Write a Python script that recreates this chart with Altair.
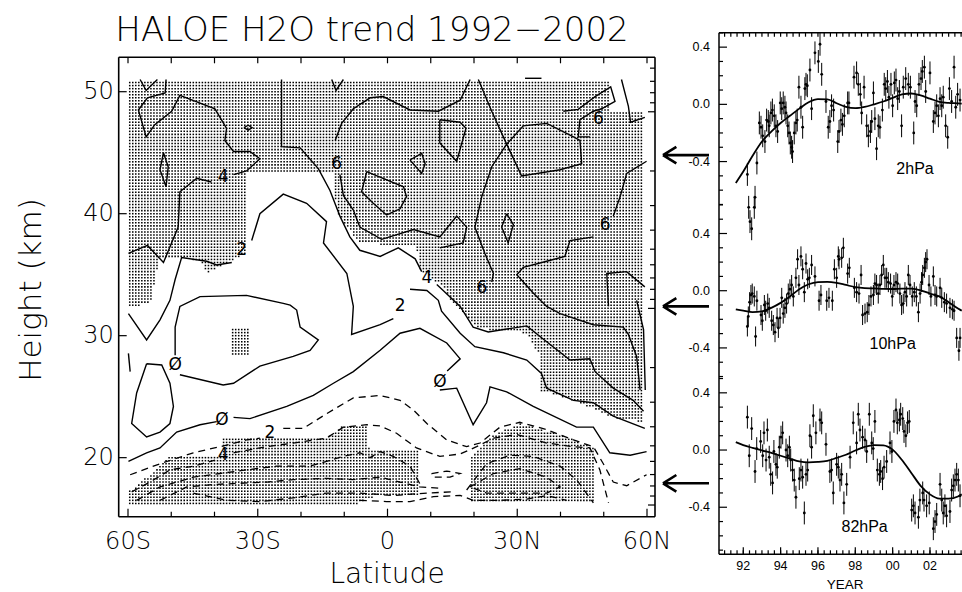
import numpy as np
import pandas as pd
import altair as alt

TITLE = "HALOE H2O trend  1992\u22122002"
MAP_FONT = "DejaVu Sans"
MAP_WEIGHT = 200
SERIES_FONT = "Liberation Sans"

# ------------------------------------------------------------------ layout
CANVAS_W, CANVAS_H = 962, 592
LAT_DOMAIN = [-62.15, 61.85]          # latitude at the map frame edges
Z_DOMAIN = [15.16, 52.82]             # height (km) at the map frame edges
MAP_X_RANGE = [118.7, 655.0]
MAP_Y_RANGE = [516.7, 57.3]

YEAR_DOMAIN = [1990.70, 2003.715]
STACK_DOMAIN = [-0.729, 2.918]        # three anomaly panels stacked in one frame
SERIES_X_RANGE = [719.0, 962.0]
SERIES_Y_RANGE = [554.3, 32.7]
PANEL_SHIFT = {"2hPa": 2.417, "10hPa": 1.114, "82hPa": 0.0}

# ------------------------------------------------ contour lines (lat, km)
SOLID_LINES = [
    [(-57.2, 51.0), (-55.8, 50.1), (-53.2, 51.0)],
    [(-51.2, 51.0), (-51.4, 49.9), (-55.5, 49.5), (-57.6, 48.5), (-55.8, 46.3), (-53.8, 47.3),
     (-49.9, 48.4), (-48.0, 49.7), (-39.9, 48.6), (-37.2, 47.0), (-37.6, 46.0), (-35.6, 45.1),
     (-31.8, 45.1), (-29.5, 44.5), (-32.6, 43.5), (-35.6, 43.2)],
    [(-40.7, 42.6), (-44.1, 42.9), (-48.0, 41.8), (-48.4, 38.9), (-51.8, 36.0), (-55.5, 37.4),
     (-59.9, 36.75)],
    [(-51.8, 45.0), (-50.7, 43.85), (-51.2, 42.2), (-52.6, 43.6), (-51.8, 45.0)],
    [(-33.2, 47.05), (-32.2, 47.25), (-31.3, 47.05), (-32.2, 46.85), (-33.2, 47.05)],
    [(-12.9, 51.0), (-11.9, 50.1), (-10.2, 51.0)],
    [(-24.5, 51.0), (-24.5, 45.5), (-20.2, 45.4), (-16.0, 43.7), (-13.3, 41.9), (-11.0, 39.8),
     (-8.7, 38.1), (-6.4, 37.0), (-1.7, 36.5), (2.5, 37.2), (6.4, 36.3), (7.9, 35.25)],
    [(11.4, 34.2), (14.1, 33.3), (16.8, 32.4), (19.8, 30.7), (23.3, 30.3), (32.2, 30.8),
     (36.8, 29.5), (42.2, 28.0), (46.8, 28.1), (48.0, 27.05), (52.2, 25.7), (56.8, 24.7),
     (59.2, 23.8)],
    [(21.0, 51.0), (24.1, 48.4), (27.55, 45.7), (31.0, 43.1), (39.9, 43.6), (44.9, 44.1),
     (44.5, 46.0), (43.0, 46.3), (36.8, 47.4), (31.4, 47.2), (27.55, 45.7), (24.1, 43.85),
     (21.8, 41.4), (20.2, 38.9), (22.5, 36.75), (24.5, 35.1), (24.1, 34.4)],
    [(19.1, 51.0), (16.8, 49.3), (11.75, 48.4), (5.2, 48.5), (-1.0, 49.6), (-4.0, 49.5),
     (-7.9, 48.6), (-10.6, 47.4), (-12.1, 46.0)],
    [(-11.0, 43.2), (-10.2, 41.5), (-7.9, 40.3), (-6.4, 38.9), (-1.35, 37.9), (6.0, 38.7),
     (12.1, 38.1), (16.0, 39.8), (18.3, 38.9), (17.5, 37.6), (12.1, 37.2)],
    [(12.1, 47.7), (16.8, 47.5), (18.15, 47.0), (16.0, 44.3), (12.1, 45.8), (12.1, 47.7)],
    [(5.2, 44.4), (7.9, 44.95), (8.7, 44.1), (7.9, 43.3), (5.2, 44.4)],
    [(-4.8, 43.45), (3.7, 42.2), (4.4, 41.4), (2.9, 40.4), (-0.2, 39.9), (-3.3, 40.85),
     (-6.0, 41.8), (-4.8, 43.45)],
    [(27.55, 40.0), (29.1, 39.1), (27.9, 37.6), (26.4, 38.9), (27.55, 40.0)],
    [(31.8, 51.1), (35.6, 51.1)],
    [(40.65, 48.4), (44.1, 48.55), (48.0, 49.6), (51.6, 50.4), (52.6, 49.2), (49.5, 48.6),
     (47.6, 48.4), (44.5, 47.7), (44.1, 46.3), (46.8, 46.3)],
    [(54.1, 51.0), (55.7, 48.8), (56.2, 47.5), (59.5, 47.9)],
    [(59.9, 44.3), (55.3, 43.3), (53.8, 41.4), (52.2, 39.8)],
    [(47.6, 38.1), (42.2, 37.8), (41.0, 36.5), (36.8, 36.1), (31.4, 35.6), (29.9, 35.0),
     (33.7, 33.5), (36.8, 32.4), (39.9, 31.8), (47.6, 30.9), (54.5, 30.7), (55.7, 30.1),
     (57.6, 28.3), (58.4, 25.55)],
    [(51.1, 32.4), (50.7, 35.1), (55.3, 35.25), (59.5, 34.0)],
    [(57.6, 32.9), (59.2, 30.5), (59.6, 25.55)],
    [(-59.9, 31.8), (-55.7, 29.65), (-52.6, 31.3), (-50.3, 32.9), (-49.1, 34.6), (-47.6, 36.4),
     (-41.8, 36.1), (-39.5, 35.8), (-36.0, 36.0)],
    [(-31.4, 37.8), (-29.5, 40.0), (-24.1, 41.6), (-18.7, 40.85), (-14.1, 39.35), (-14.8, 37.6),
     (-9.4, 35.1), (-7.9, 32.4), (-8.3, 30.1), (-1.7, 30.9), (1.35, 31.4)],
    [(5.2, 33.8), (9.1, 33.7), (11.75, 32.9), (12.5, 32.0), (16.8, 30.2), (20.2, 29.1),
     (26.8, 28.6), (32.2, 28.0), (35.6, 26.9), (36.8, 25.7), (43.0, 24.7), (47.6, 24.5),
     (52.2, 23.4), (59.5, 22.4)],
    [(-49.1, 28.4), (-49.1, 30.7), (-48.0, 32.4), (-43.35, 33.2), (-32.6, 33.3), (-24.1, 32.65),
     (-22.5, 32.5), (-21.0, 32.1), (-20.2, 30.7), (-16.0, 29.65), (-17.9, 28.8), (-21.8, 28.3),
     (-29.5, 27.5), (-35.6, 26.1), (-38.0, 25.96), (-48.0, 26.8)],
    [(-55.7, 27.7), (-52.2, 27.6), (-50.3, 26.1), (-49.5, 24.2), (-50.3, 22.8), (-52.6, 22.1),
     (-55.7, 21.7), (-59.15, 22.8), (-58.0, 25.3), (-55.7, 27.7)],
    [(-59.9, 28.55), (-59.5, 27.05)],
    [(-59.9, 19.7), (-55.7, 20.4), (-52.6, 20.8), (-48.75, 22.1), (-43.35, 22.7), (-39.5, 22.95)],
    [(-35.6, 23.3), (-31.8, 23.2), (-23.3, 24.2), (-17.15, 25.1), (-12.5, 26.1), (-7.9, 27.05),
     (-1.7, 28.8), (2.9, 30.2), (7.5, 30.6), (13.7, 29.4), (16.8, 28.1), (13.8, 27.1)],
    [(12.1, 25.55), (16.0, 25.7), (19.8, 22.7), (22.9, 24.5), (23.7, 25.8), (27.55, 25.4),
     (33.7, 24.2), (43.7, 22.5), (47.6, 22.5), (51.4, 20.4), (56.1, 20.2), (59.9, 20.5)],
]

DASHED_LINES = [
    [(-59.5, 18.6), (-52.6, 19.5), (-44.9, 20.4), (-38.7, 20.9), (-32.6, 21.45), (-29.5, 21.6)],
    [(-24.1, 22.4), (-19.5, 22.4), (-14.1, 23.6), (-7.9, 24.9), (-1.7, 25.1), (2.9, 24.7),
     (6.0, 23.9), (9.1, 22.8), (13.7, 21.45), (18.3, 20.9), (21.4, 21.2), (26.0, 22.5),
     (30.6, 22.9), (36.8, 22.3), (43.0, 21.45), (47.6, 20.9), (49.9, 19.5), (52.2, 18.0),
     (55.3, 17.7), (59.9, 18.6)],
    [(-59.15, 17.2), (-54.9, 18.0), (-50.3, 19.0), (-44.9, 19.3), (-39.9, 19.8)],
    [(-35.6, 20.4), (-32.6, 20.6), (-27.9, 20.9), (-21.8, 21.2), (-14.1, 21.6), (-10.2, 22.5),
     (-4.8, 22.7), (-1.7, 22.6), (2.1, 22.0), (6.7, 20.8), (12.1, 20.1), (16.8, 20.3),
     (20.6, 20.9), (24.5, 21.6), (29.9, 21.9), (36.8, 21.2), (43.0, 20.9), (46.8, 20.8),
     (49.1, 19.0), (51.1, 16.3)],
    [(-58.0, 16.5), (-52.6, 17.6), (-44.9, 18.4), (-38.7, 18.7), (-32.6, 19.0), (-25.6, 19.3),
     (-17.9, 19.3), (-10.2, 20.1), (-6.4, 20.4), (-4.0, 20.0), (-1.7, 20.5), (1.35, 20.1),
     (5.2, 19.3), (7.9, 17.6)],
    [(-52.6, 16.5), (-46.4, 17.6), (-40.3, 17.8), (-34.1, 17.9), (-27.9, 18.0), (-21.8, 18.2),
     (-14.1, 18.3), (-7.9, 18.2), (-1.7, 18.4), (2.9, 18.0), (7.5, 17.6), (12.1, 17.5)],
    [(-44.9, 17.1), (-37.2, 16.5), (-29.5, 16.4), (-21.8, 16.7), (-14.1, 17.1), (-6.4, 17.1),
     (1.35, 16.9), (9.1, 17.1), (15.2, 17.2)],
    [(-6.4, 16.5), (-0.2, 16.4), (5.2, 16.4), (10.6, 16.8), (16.8, 16.9), (19.8, 16.5),
     (26.0, 16.5), (32.2, 16.6), (36.8, 16.9), (41.4, 16.5)],
    [(19.1, 17.6), (24.5, 18.7), (30.6, 19.1), (36.8, 18.4), (39.9, 17.6), (36.8, 17.1),
     (29.9, 17.1), (22.9, 17.1), (19.1, 17.6)],
    [(18.3, 17.35), (22.9, 19.5), (28.3, 20.2), (33.7, 20.1), (39.9, 19.3), (43.7, 18.2),
     (47.6, 16.3)],
    [(10.2, 18.7), (13.7, 18.9), (16.8, 18.7), (14.45, 18.4), (10.6, 18.4), (10.2, 18.7)],
]

CONTOUR_LABELS = ["4", "2", "6", "4", "2", "6", "6", "6", "\u00d8", "\u00d8", "\u00d8", "2", "4"]
LABEL_LAT = [-38.0, -33.7, -11.75, 9.1, 2.9, 21.8, 48.75, 50.3, -49.1, -38.3, 12.1, -27.2, -38.0]
LABEL_Z = [43.0, 37.0, 44.1, 34.7, 32.4, 33.9, 47.8, 39.1, 27.6, 23.1, 26.2, 22.0, 20.2]

# significance (stippled) regions, as polygons in (lat, km)
STIPPLE_REGIONS = [
    [(-59.6, 51.0), (51.4, 51.0), (51.4, 48.4), (59.2, 48.4), (59.2, 22.9), (52.2, 23.3),
     (43.0, 24.7), (35.3, 25.5), (35.3, 28.3), (32.2, 30.2), (20.6, 30.6), (14.5, 32.9),
     (12.9, 34.0), (7.5, 35.4), (6.7, 37.3), (-6.4, 37.6), (-11.7, 40.0), (-12.5, 43.3),
     (-32.6, 43.3), (-32.6, 36.75), (-35.7, 36.2), (-41.8, 35.1), (-43.4, 36.2),
     (-52.6, 36.5), (-54.9, 32.6), (-59.6, 32.4)],
    [(-36.0, 30.6), (-32.2, 30.6), (-32.2, 28.5), (-36.0, 28.5)],
    [(-59.9, 16.1), (-59.9, 17.2), (-52.6, 19.25), (-50.3, 20.1), (-38.7, 20.1), (-38.0, 21.6),
     (-14.1, 21.6), (-10.2, 22.7), (-4.8, 22.7), (-4.8, 21.2), (-3.3, 20.6), (7.5, 20.6),
     (7.5, 16.9), (-2.0, 16.9), (-8.0, 16.1)],
    [(19.1, 20.1), (23.7, 21.7), (30.6, 22.8), (36.8, 22.2), (47.6, 20.9), (47.6, 16.3),
     (19.1, 16.3)],
]

# tick marks of the map
LAT_TICKS = [-60, -50, -40, -30, -20, -10, 0, 10, 20, 30, 40, 50, 60]
LAT_LABELED = [-60, -30, 0, 30, 60]
LAT_TEXT = ["60S", "30S", "0", "30N", "60N"]
HEIGHT_LABELED = [20, 30, 40, 50]
# pressure levels marked on the right-hand height axis (hPa)
PRESSURE_TICKS = [0.6, 0.7, 0.8, 0.9, 1, 2, 3, 4, 5, 6, 7, 8, 9, 10,
                  20, 30, 40, 50, 60, 70, 80, 90, 100]
SCALE_HEIGHT_KM = 7.0

# heights of the three levels shown on the right
ARROW_Z = [44.8, 32.4, 17.9]

# --------------------------------------------- H2O anomaly series (ppmv)
YEARS_2HPA = [1992.22, 1992.29, 1992.36, 1992.45, 1992.59, 1992.63, 1992.73, 1992.86, 1992.95,
              1993.04, 1993.16, 1993.25, 1993.34, 1993.39, 1993.48, 1993.56, 1993.66, 1993.75,
              1993.84, 1993.98, 1994.06, 1994.14, 1994.23, 1994.29, 1994.38, 1994.45, 1994.52,
              1994.59, 1994.64, 1994.73, 1994.82, 1994.89, 1994.98, 1995.09, 1995.18, 1995.30,
              1995.36, 1995.43, 1995.57, 1995.66, 1995.84, 1996.02, 1996.11, 1996.20, 1996.43,
              1996.55, 1996.64, 1996.73, 1996.84, 1997.06, 1997.13, 1997.23, 1997.31, 1997.41,
              1997.59, 1997.66, 1997.93, 1998.07, 1998.16, 1998.27, 1998.34, 1998.47, 1998.61,
              1998.70, 1998.81, 1998.88, 1998.97, 1999.05, 1999.14, 1999.23, 1999.32, 1999.45,
              1999.55, 1999.63, 1999.72, 1999.80, 1999.91, 2000.00, 2000.09, 2000.18, 2000.27,
              2000.36, 2000.48, 2000.57, 2000.70, 2000.84, 2000.95, 2001.13, 2001.20, 2001.29,
              2001.41, 2001.52, 2001.59, 2001.70, 2001.77, 2002.00, 2002.18, 2002.27, 2002.36,
              2002.45, 2002.54, 2002.63, 2002.71, 2002.84, 2002.95, 2003.04, 2003.16, 2003.29,
              2003.38, 2003.48, 2003.61]
VALUES_2HPA = [-0.49, -0.72, -0.82, -0.87, -0.72, -0.65, -0.41, -0.13, -0.16,
               -0.22, -0.26, -0.11, -0.12, -0.15, -0.06, -0.04, -0.08, -0.15,
               -0.19, 0.01, -0.03, 0.01, -0.02, -0.06, -0.15, -0.20, -0.27,
               -0.30, -0.33, -0.20, -0.13, -0.11, 0.12, -0.02, -0.16, 0.11,
               0.14, 0.13, 0.24, -0.03, 0.36, 0.30, 0.42, 0.21, 0.02,
               -0.16, -0.12, -0.01, -0.04, -0.26, -0.19, -0.11, -0.14, -0.08,
               0.01, 0.01, 0.19, 0.22, 0.14, 0.07, -0.06, 0.12, -0.15,
               -0.22, -0.19, -0.12, 0.08, -0.10, -0.31, -0.15, -0.16, -0.04,
               0.14, 0.11, 0.16, 0.05, 0.14, -0.01, 0.15, 0.17, 0.04,
               0.09, -0.15, 0.12, 0.18, 0.14, 0.12, -0.20, 0.02, -0.01,
               0.14, 0.18, 0.23, 0.26, 0.09, 0.22, -0.12, -0.06, -0.01,
               -0.08, 0.04, -0.01, 0.05, -0.15, -0.23, 0.11, 0.02, 0.26,
               -0.02, 0.07, 0.03]

YEARS_10HPA = [1992.22, 1992.27, 1992.34, 1992.41, 1992.48, 1992.59, 1992.66, 1992.73, 1992.95,
               1993.02, 1993.13, 1993.20, 1993.31, 1993.39, 1993.52, 1993.61, 1993.70, 1993.81,
               1993.88, 1993.97, 1994.06, 1994.14, 1994.23, 1994.32, 1994.41, 1994.50, 1994.59,
               1994.68, 1994.82, 1994.91, 1994.98, 1995.09, 1995.18, 1995.27, 1995.36, 1995.45,
               1995.54, 1995.66, 1995.84, 1996.06, 1996.16, 1996.47, 1996.59, 1996.77, 1996.88,
               1997.00, 1997.09, 1997.13, 1997.27, 1997.36, 1997.59, 1997.68, 1997.95, 1998.07,
               1998.20, 1998.31, 1998.39, 1998.52, 1998.64, 1998.73, 1998.84, 1998.97, 1999.05,
               1999.14, 1999.23, 1999.32, 1999.41, 1999.50, 1999.59, 1999.68, 1999.77, 1999.89,
               1999.98, 2000.07, 2000.18, 2000.27, 2000.39, 2000.48, 2000.57, 2000.66, 2000.75,
               2000.84, 2000.93, 2001.05, 2001.16, 2001.27, 2001.38, 2001.47, 2001.55, 2001.61,
               2001.70, 2001.77, 2001.84, 2001.95, 2002.05, 2002.18, 2002.27, 2002.36, 2002.54,
               2002.63, 2002.77, 2002.89, 2003.07, 2003.20, 2003.29, 2003.43, 2003.55, 2003.61]
VALUES_10HPA = [-0.25, -0.18, -0.08, -0.03, -0.02, -0.04, -0.32, -0.07, -0.17,
                -0.21, -0.10, -0.14, -0.09, -0.12, -0.21, -0.24, -0.29, -0.19,
                -0.26, -0.19, -0.05, -0.16, -0.12, -0.09, -0.02, 0.01, 0.04,
                -0.04, 0.09, 0.22, 0.04, 0.24, 0.15, -0.01, 0.19, 0.08,
                0.09, 0.18, 0.10, -0.07, -0.03, -0.07, -0.05, -0.07, 0.15,
                0.09, 0.24, 0.22, 0.23, 0.30, 0.12, 0.16, 0.02, -0.01,
                -0.02, 0.11, -0.17, -0.16, -0.15, -0.10, -0.04, -0.03, 0.05,
                0.04, -0.02, 0.04, 0.11, 0.18, 0.09, 0.09, 0.06, 0.05,
                -0.04, 0.04, 0.06, 0.05, -0.02, -0.10, -0.09, -0.01, -0.04,
                0.11, 0.04, -0.04, -0.01, -0.04, -0.15, -0.02, 0.06, 0.11,
                0.16, 0.20, 0.22, 0.04, -0.04, 0.10, -0.03, -0.04, 0.02,
                -0.05, -0.08, -0.09, -0.12, -0.13, -0.14, -0.33, -0.42, -0.33]

YEARS_82HPA = [1992.22, 1992.32, 1992.45, 1992.63, 1992.72, 1992.93, 1993.04, 1993.11, 1993.22,
               1993.29, 1993.39, 1993.47, 1993.57, 1993.64, 1993.75, 1993.82, 1993.93, 1994.02,
               1994.11, 1994.29, 1994.38, 1994.47, 1994.54, 1994.64, 1994.73, 1994.82, 1995.00,
               1995.09, 1995.18, 1995.27, 1995.36, 1995.45, 1995.57, 1995.66, 1995.75, 1995.89,
               1996.11, 1996.20, 1996.43, 1996.64, 1996.73, 1996.82, 1997.00, 1997.09, 1997.18,
               1997.27, 1997.39, 1997.54, 1997.72, 1997.89, 1998.07, 1998.16, 1998.25, 1998.39,
               1998.52, 1998.61, 1998.75, 1998.88, 1998.96, 1999.05, 1999.18, 1999.29, 1999.36,
               1999.46, 1999.54, 1999.68, 1999.86, 1999.96, 2000.07, 2000.18, 2000.25, 2000.36,
               2000.43, 2000.54, 2000.61, 2000.71, 2000.80, 2000.89, 2001.02, 2001.11, 2001.20,
               2001.38, 2001.46, 2001.61, 2001.68, 2001.82, 2001.96, 2002.18, 2002.27, 2002.36,
               2002.54, 2002.63, 2002.71, 2002.80, 2002.89, 2003.07, 2003.16, 2003.25, 2003.34,
               2003.43, 2003.52, 2003.61]
VALUES_82HPA = [0.23, -0.04, 0.15, -0.15, 0.01, 0.06, -0.04, 0.12, -0.07,
                0.14, -0.05, -0.17, -0.23, -0.01, -0.10, -0.12, 0.02, 0.09,
                0.12, 0.00, -0.04, 0.02, -0.07, -0.14, -0.21, -0.33, -0.20,
                -0.14, -0.19, -0.44, -0.17, -0.14, 0.10, 0.02, 0.24, 0.12,
                0.21, 0.19, 0.04, -0.15, -0.14, -0.30, -0.10, -0.12, -0.21,
                -0.17, -0.37, -0.24, -0.05, 0.19, 0.05, 0.25, 0.14, 0.09,
                0.07, -0.01, 0.25, 0.05, 0.01, 0.20, -0.14, -0.17, -0.15,
                -0.20, -0.12, -0.08, 0.05, -0.01, 0.20, 0.28, 0.19, 0.21,
                0.25, 0.22, 0.13, 0.10, 0.19, 0.20, -0.42, -0.39, -0.44,
                -0.47, -0.35, -0.30, -0.35, -0.39, -0.37, -0.55, -0.50, -0.45,
                -0.24, -0.35, -0.44, -0.39, -0.46, -0.43, -0.28, -0.25, -0.21,
                -0.17, -0.21, -0.32]

ERROR_HALF_WIDTH = {"2hPa": 0.08, "10hPa": 0.07, "82hPa": 0.08}

# smooth fitted curves
FIT_YEARS = [1991.6, 1992.0, 1992.5, 1993.0, 1993.5, 1994.0, 1994.5, 1995.0, 1995.5, 1996.0,
             1996.5, 1997.0, 1997.5, 1998.0, 1998.5, 1999.0, 1999.5, 2000.0, 2000.5, 2001.0,
             2001.5, 2002.0, 2002.5, 2003.0, 2003.5, 2003.7]
FIT_2HPA = [-0.55, -0.47, -0.36, -0.26, -0.19, -0.13, -0.08, -0.03, 0.015, 0.037,
            0.035, 0.008, -0.018, -0.027, -0.018, 0.0, 0.02, 0.045, 0.07, 0.076,
            0.062, 0.04, 0.018, 0.01, 0.007, 0.005]
FIT_10HPA = [-0.13, -0.14, -0.15, -0.145, -0.12, -0.085, -0.04, 0.01, 0.045, 0.06,
             0.062, 0.055, 0.04, 0.025, 0.018, 0.016, 0.013, 0.012, 0.015, 0.014,
             0.003, -0.02, -0.04, -0.08, -0.125, -0.14]
FIT_82HPA = [0.055, 0.035, 0.015, -0.003, -0.02, -0.04, -0.06, -0.08, -0.086, -0.083,
             -0.075, -0.055, -0.033, -0.003, 0.022, 0.035, 0.033, 0.003, -0.07, -0.16,
             -0.25, -0.31, -0.34, -0.34, -0.325, -0.31]

PANEL_NAMES = ["2hPa", "10hPa", "82hPa"]
PANEL_LABEL_YEAR = [2001.2, 2000.0, 1998.5]
PANEL_LABEL_VALUE = [-0.45, -0.37, -0.54]
YEAR_LABELED = [1992, 1994, 1996, 1998, 2000, 2002]


# ------------------------------------------------------------ data frames
def lines_frame(lines):
    rows = []
    for k, pts in enumerate(lines):
        for i, (la, zz) in enumerate(pts):
            rows.append({"line": k, "i": i, "lat": la, "z": zz})
    return pd.DataFrame(rows)


def inside(poly, px, py):
    poly = np.asarray(poly, dtype=float)
    xs, ys = poly[:, 0], poly[:, 1]
    hit = np.zeros(px.shape, dtype=bool)
    j = len(poly) - 1
    for i in range(len(poly)):
        xi, yi, xj, yj = xs[i], ys[i], xs[j], ys[j]
        crosses = (yi > py) != (yj > py)
        xcross = (xj - xi) * (py - yi) / np.where(yj == yi, 1e-9, yj - yi) + xi
        hit ^= crosses & (px < xcross)
        j = i
    return hit


# stipple texture: a regular dot lattice kept inside the shaded regions
glat, gz = np.meshgrid(np.arange(-59.6, 59.7, 0.7), np.arange(16.0, 51.05, 0.25))
glat, gz = glat.ravel(), gz.ravel()
mask = np.zeros(glat.shape, dtype=bool)
for region in STIPPLE_REGIONS:
    mask |= inside(region, glat, gz)
stipple_df = pd.DataFrame({"lat": np.round(glat[mask], 3), "z": np.round(gz[mask], 3)})

solid_df = lines_frame(SOLID_LINES)
dashed_df = lines_frame(DASHED_LINES)
label_df = pd.DataFrame({"label": CONTOUR_LABELS, "lat": LABEL_LAT, "z": LABEL_Z})

map_frame_df = pd.DataFrame({
    "lat": [LAT_DOMAIN[0], LAT_DOMAIN[0], LAT_DOMAIN[0], LAT_DOMAIN[1]],
    "lat2": [LAT_DOMAIN[1], LAT_DOMAIN[1], LAT_DOMAIN[0], LAT_DOMAIN[1]],
    "z": [Z_DOMAIN[0], Z_DOMAIN[1], Z_DOMAIN[0], Z_DOMAIN[0]],
    "z2": [Z_DOMAIN[0], Z_DOMAIN[1], Z_DOMAIN[1], Z_DOMAIN[1]],
})
lat_minor = [v for v in LAT_TICKS if v not in LAT_LABELED]
p_heights = [SCALE_HEIGHT_KM * np.log(1000.0 / p) for p in PRESSURE_TICKS]
p_major = [h for p, h in zip(PRESSURE_TICKS, p_heights) if p in (1, 10, 100)]
p_minor = [h for p, h in zip(PRESSURE_TICKS, p_heights) if p not in (1, 10, 100)]

lat_text_df = pd.DataFrame({"lat": LAT_LABELED, "z": Z_DOMAIN[0], "t": LAT_TEXT})
z_text_df = pd.DataFrame({"lat": LAT_DOMAIN[0], "z": HEIGHT_LABELED,
                          "t": [str(v) for v in HEIGHT_LABELED]})
arrow_df = pd.DataFrame({"z": ARROW_Z})


def series_frame(name, years, values):
    shift = PANEL_SHIFT[name]
    v = np.asarray(values, dtype=float) + shift
    e = ERROR_HALF_WIDTH[name]
    return pd.DataFrame({"level": name, "year": years, "v": v, "lo": v - e, "hi": v + e})


obs_df = pd.concat([
    series_frame("2hPa", YEARS_2HPA, VALUES_2HPA),
    series_frame("10hPa", YEARS_10HPA, VALUES_10HPA),
    series_frame("82hPa", YEARS_82HPA, VALUES_82HPA),
], ignore_index=True)
fit_df = pd.concat([
    pd.DataFrame({"level": n, "year": FIT_YEARS, "v": np.asarray(f) + PANEL_SHIFT[n]})
    for n, f in zip(PANEL_NAMES, [FIT_2HPA, FIT_10HPA, FIT_82HPA])
], ignore_index=True)
panel_label_df = pd.DataFrame({
    "label": PANEL_NAMES,
    "year": PANEL_LABEL_YEAR,
    "v": [v + PANEL_SHIFT[n] for n, v in zip(PANEL_NAMES, PANEL_LABEL_VALUE)],
})

series_frame_df = pd.DataFrame({
    "year": [YEAR_DOMAIN[0], YEAR_DOMAIN[0], YEAR_DOMAIN[0]],
    "year2": [YEAR_DOMAIN[0], YEAR_DOMAIN[1], YEAR_DOMAIN[1]],
    "v": [STACK_DOMAIN[0], STACK_DOMAIN[1], STACK_DOMAIN[0]],
    "v2": [STACK_DOMAIN[1], STACK_DOMAIN[1], STACK_DOMAIN[0]],
})
label_ticks, label_text, minor_ticks = [], [], []
panel_span = {"2hPa": (-0.7, 0.5), "10hPa": (-0.6, 0.6), "82hPa": (-0.7, 0.5)}
for n in PANEL_NAMES:
    s = PANEL_SHIFT[n]
    for local in (-0.4, 0.0, 0.4):
        label_ticks.append(round(s + local, 3))
        label_text.append(f"{local:.1f}")
    lo, hi = panel_span[n]
    for k in range(int(round(lo * 10)), int(round(hi * 10)) + 1):
        if k % 4 != 0:
            minor_ticks.append(round(s + k / 10.0, 3))
year_ticks = [1991 + k / 3.0 for k in range(0, 39)]
stack_text_df = pd.DataFrame({"year": YEAR_DOMAIN[0], "v": label_ticks, "t": label_text})
year_text_df = pd.DataFrame({"year": YEAR_LABELED, "v": STACK_DOMAIN[0],
                             "t": [str(y)[2:] for y in YEAR_LABELED]})

# ------------------------------------------------------------ encodings
MAP_X_SCALE = alt.Scale(domain=LAT_DOMAIN, range=MAP_X_RANGE, nice=False, zero=False)
MAP_Y_SCALE = alt.Scale(domain=Z_DOMAIN, range=MAP_Y_RANGE, nice=False, zero=False)
TS_X_SCALE = alt.Scale(domain=YEAR_DOMAIN, range=SERIES_X_RANGE, nice=False, zero=False)
TS_Y_SCALE = alt.Scale(domain=STACK_DOMAIN, range=SERIES_Y_RANGE, nice=False, zero=False)


def mx(field="lat"):
    return alt.X(f"{field}:Q", scale=MAP_X_SCALE, axis=None)


def my(field="z"):
    return alt.Y(f"{field}:Q", scale=MAP_Y_SCALE, axis=None)


def sx(field="year"):
    return alt.X(f"{field}:Q", scale=TS_X_SCALE, axis=None)


def sy(field="v"):
    return alt.Y(f"{field}:Q", scale=TS_Y_SCALE, axis=None)


def tick_layer(df, xf, yf, x2=None, y2=None, **offs):
    enc = {"x": xf, "y": yf}
    if x2 is not None:
        enc["x2"] = x2
    if y2 is not None:
        enc["y2"] = y2
    return alt.Chart(df).mark_rule(color="black", strokeWidth=1.2, **offs).encode(**enc)


def caption(text, x, y, size, font, angle=0, weight="normal"):
    return alt.Chart(pd.DataFrame({"t": [text]})).mark_text(
        font=font, fontSize=size, fontWeight=weight, color="black", align="center",
        baseline="alphabetic", angle=angle).encode(
        x=alt.value(x), y=alt.value(y), text="t:N")


# ------------------------------------------------------------ map layers
stipple = alt.Chart(stipple_df).mark_square(size=2.4, color="black", opacity=1).encode(
    x=mx(), y=my())
solid = alt.Chart(solid_df).mark_line(color="black", strokeWidth=1.4).encode(
    x=mx(), y=my(), detail="line:N", order="i:Q")
dashed = alt.Chart(dashed_df).mark_line(color="black", strokeWidth=1.3,
                                        strokeDash=[7, 5]).encode(
    x=mx(), y=my(), detail="line:N", order="i:Q")
labels = alt.Chart(label_df).mark_text(font=MAP_FONT, fontSize=17, color="black").encode(
    x=mx(), y=my(), text="label:N")
map_frame = alt.Chart(map_frame_df).mark_rule(color="black", strokeWidth=1.6).encode(
    x=mx(), x2="lat2:Q", y=my(), y2="z2:Q")
map_ticks = [
    tick_layer(pd.DataFrame({"lat": LAT_LABELED, "z": Z_DOMAIN[0]}), mx(), my(), y2="z:Q", y2Offset=-8),
    tick_layer(pd.DataFrame({"lat": lat_minor, "z": Z_DOMAIN[0]}), mx(), my(), y2="z:Q", y2Offset=-5),
    tick_layer(pd.DataFrame({"lat": LAT_TICKS, "z": Z_DOMAIN[1]}), mx(), my(), y2="z:Q", y2Offset=6),
    tick_layer(pd.DataFrame({"lat": LAT_DOMAIN[0], "z": HEIGHT_LABELED}), mx(), my(), x2="lat:Q", x2Offset=8),
    tick_layer(pd.DataFrame({"lat": LAT_DOMAIN[1], "z": p_major}), mx(), my(), x2="lat:Q", x2Offset=-7),
    tick_layer(pd.DataFrame({"lat": LAT_DOMAIN[1], "z": p_minor}), mx(), my(), x2="lat:Q", x2Offset=-5),
]
lat_text = alt.Chart(lat_text_df).mark_text(font=MAP_FONT, fontSize=24, fontWeight=MAP_WEIGHT,
                                            color="black", align="center",
                                            baseline="alphabetic", dy=32).encode(
    x=mx(), y=my(), text="t:N")
z_text = alt.Chart(z_text_df).mark_text(font=MAP_FONT, fontSize=24, fontWeight=MAP_WEIGHT,
                                        color="black", align="right", baseline="middle",
                                        dx=-5).encode(x=mx(), y=my(), text="t:N")

ARROW_PATH = "M -1 0 L 1 0 M -1 0 L -0.42 -0.36 M -1 0 L -0.42 0.36"
arrows = alt.Chart(arrow_df).mark_point(shape=ARROW_PATH, size=2116, filled=False,
                                        color="black", strokeWidth=2.6, opacity=1).encode(
    x=alt.value(686), y=my())

map_layer = alt.layer(
    stipple, solid, dashed, labels, map_frame, *map_ticks, lat_text, z_text, arrows,
    caption(TITLE, 372, 41, 34, MAP_FONT, weight=MAP_WEIGHT),
    caption("Latitude", 387, 583, 28, MAP_FONT, weight=MAP_WEIGHT),
    caption("Height (km)", 41, 290, 31, MAP_FONT, angle=270, weight=MAP_WEIGHT),
)

# ------------------------------------------------------------ series layers
errbars = alt.Chart(obs_df).mark_rule(color="black", strokeWidth=1).encode(
    x=sx(), y=sy("lo"), y2="hi:Q")
points = alt.Chart(obs_df).mark_circle(size=8, color="black", opacity=1).encode(
    x=sx(), y=sy())
fits = alt.Chart(fit_df).mark_line(color="black", strokeWidth=1.8,
                                   interpolate="monotone").encode(
    x=sx(), y=sy(), detail="level:N")
panel_labels = alt.Chart(panel_label_df).mark_text(font=SERIES_FONT, fontSize=16,
                                                   color="black").encode(
    x=sx(), y=sy(), text="label:N")
ts_frame = alt.Chart(series_frame_df).mark_rule(color="black", strokeWidth=1.5).encode(
    x=sx(), x2="year2:Q", y=sy(), y2="v2:Q")
ts_ticks = [
    tick_layer(pd.DataFrame({"year": YEAR_DOMAIN[0], "v": label_ticks}), sx(), sy(), x2="year:Q", x2Offset=8),
    tick_layer(pd.DataFrame({"year": YEAR_DOMAIN[0], "v": minor_ticks}), sx(), sy(), x2="year:Q", x2Offset=4),
    tick_layer(pd.DataFrame({"year": year_ticks, "v": STACK_DOMAIN[1]}), sx(), sy(), y2="v:Q", y2Offset=4),
    tick_layer(pd.DataFrame({"year": year_ticks, "v": STACK_DOMAIN[0]}), sx(), sy(), y2="v:Q", y2Offset=-4),
    tick_layer(pd.DataFrame({"year": YEAR_LABELED, "v": STACK_DOMAIN[0]}), sx(), sy(), y2="v:Q", y2Offset=-7),
]
stack_text = alt.Chart(stack_text_df).mark_text(font=SERIES_FONT, fontSize=12.5, color="black",
                                                align="right", baseline="middle",
                                                dx=-9).encode(x=sx(), y=sy(), text="t:N")
year_text = alt.Chart(year_text_df).mark_text(font=SERIES_FONT, fontSize=12.5, color="black",
                                              align="center", baseline="alphabetic",
                                              dy=16).encode(x=sx(), y=sy(), text="t:N")
series_layer = alt.layer(errbars, points, fits, panel_labels, ts_frame, *ts_ticks,
                         stack_text, year_text,
                         caption("YEAR", 845, 589, 13.5, SERIES_FONT))

chart = (
    alt.layer(map_layer, series_layer)
    .resolve_scale(x="independent", y="independent")
    .properties(width=CANVAS_W, height=CANVAS_H, padding=0,
                autosize=alt.AutoSizeParams(type="none"), background="white")
    .configure_view(strokeWidth=0)
)

chart.save("out.html", embed_options={"renderer": "svg", "actions": False})
